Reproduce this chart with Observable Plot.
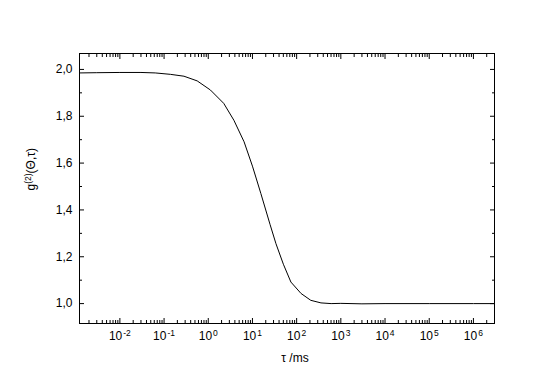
<!DOCTYPE html>
<html><head><meta charset="utf-8">
<script src="https://cdn.jsdelivr.net/npm/d3@7"></script>
<script src="https://cdn.jsdelivr.net/npm/@observablehq/plot@0.6"></script>
<style>
body{margin:0;background:#fff}
#chart svg{font-family:"Liberation Sans",Arial,sans-serif}
</style>
</head><body><div id="chart"></div>
<script>
// correlation time tau (ms) and measured g2
const tau = [0.00122, 0.003, 0.01, 0.03, 0.063, 0.139, 0.282, 0.562, 1.12, 2.24, 3.8, 6.46, 10, 15.5, 25.1, 34, 50.1, 74.1, 126, 209, 355, 603, 1000, 3000, 10000, 100000, 1000000, 3000000];
const g2  = [1.985, 1.986, 1.987, 1.987, 1.985, 1.979, 1.971, 1.951, 1.912, 1.855, 1.783, 1.691, 1.587, 1.470, 1.337, 1.256, 1.168, 1.092, 1.043, 1.014, 1.003, 1.000, 1.001, 0.999, 1.000, 1.000, 1.000, 1.000];

const xDomain = [0.00122, 3000000];
const yDomain = [0.915, 2.068];
const xMajorTicks = [1e-2, 1e-1, 1, 10, 100, 1e3, 1e4, 1e5, 1e6];
const xTickLabels = ["10^-2", "10^-1", "10^0", "10^1", "10^2", "10^3", "10^4", "10^5", "10^6"];
const yMajorTicks = [1.0, 1.2, 1.4, 1.6, 1.8, 2.0];
const yTickLabels = ["1,0", "1,2", "1,4", "1,6", "1,8", "2,0"];
const yMinorTicks = [1.1, 1.3, 1.5, 1.7, 1.9];
const xLabel = "τ /ms";
const yLabelParts = ["g", "(2)", "(Θ,τ)"];

const xMinorTicks = [];
for (let e = -3; e <= 6; e++) for (const m of [2, 3, 4, 5, 6, 7, 8, 9]) {
  const v = +(m * Math.pow(10, e)).toPrecision(3);
  if (v >= xDomain[0] && v <= xDomain[1]) xMinorTicks.push(v);
}

const data = tau.map((t, i) => ({tau: t, g: g2[i]}));
const yLabelText = yLabelParts.join("");

const plot = Plot.plot({
  width: 544, height: 381,
  marginLeft: 79, marginRight: 50, marginTop: 53, marginBottom: 58,
  style: {fontFamily: '"Liberation Sans", Arial, sans-serif', fontSize: "12px", color: "#000", background: "#fff", overflow: "visible"},
  x: {type: "log", domain: xDomain},
  y: {domain: yDomain},
  marks: [
    Plot.axisX(xMajorTicks, {anchor: "bottom", tickSize: -5, text: null, label: null, stroke: "#000"}),
    Plot.axisX(xMajorTicks, {anchor: "top", tickSize: -5, text: null, label: null, stroke: "#000"}),
    Plot.axisX(xMinorTicks, {anchor: "bottom", tickSize: -3, text: null, label: null, stroke: "#000"}),
    Plot.axisX(xMinorTicks, {anchor: "top", tickSize: -3, text: null, label: null, stroke: "#000"}),
    Plot.axisY(yMajorTicks, {anchor: "left", tickSize: -5, text: null, label: null, stroke: "#000"}),
    Plot.axisY(yMajorTicks, {anchor: "right", tickSize: -5, text: null, label: null, stroke: "#000"}),
    Plot.axisY(yMinorTicks, {anchor: "left", tickSize: -3, text: null, label: null, stroke: "#000"}),
    Plot.axisY(yMinorTicks, {anchor: "right", tickSize: -3, text: null, label: null, stroke: "#000"}),
    Plot.axisX(xMajorTicks, {anchor: "bottom", tickSize: 0, tickPadding: 8, label: null, fill: "#000",
      tickFormat: d => xTickLabels[xMajorTicks.indexOf(d)]}),
    Plot.axisY(yMajorTicks, {anchor: "left", tickSize: 0, tickPadding: 7, label: null, fill: "#000",
      tickFormat: d => yTickLabels[yMajorTicks.indexOf(d)]}),
    Plot.frame({stroke: "#000", strokeWidth: 1}),
    Plot.line(data, {x: "tau", y: "g", stroke: "#000", strokeWidth: 1}),
    Plot.text([xLabel], {frameAnchor: "bottom", dy: 38, dx: 8, text: d => d, fill: "#000", fontSize: 12}),
    Plot.text([yLabelText], {frameAnchor: "left", dx: -48, dy: 2, rotate: -90, text: d => d, fill: "#000", fontSize: 12})
  ]
});

// superscripts
d3.select(plot).selectAll("text").each(function() {
  const t = this.textContent;
  const s = d3.select(this);
  if (xTickLabels.includes(t)) {
    const [b, e] = t.split("^");
    s.text(null);
    s.append("tspan").text(b);
    s.append("tspan").attr("dy", "-4").attr("font-size", "8.5").attr("dx", "1").text(e);
  } else if (t === yLabelText) {
    s.text(null);
    s.append("tspan").text(yLabelParts[0]);
    s.append("tspan").attr("dy", "-4").attr("font-size", "8.5").text(yLabelParts[1]);
    s.append("tspan").attr("dy", "4").text(yLabelParts[2]);
  }
});

document.getElementById("chart").appendChild(plot);
</script>
</body></html>
